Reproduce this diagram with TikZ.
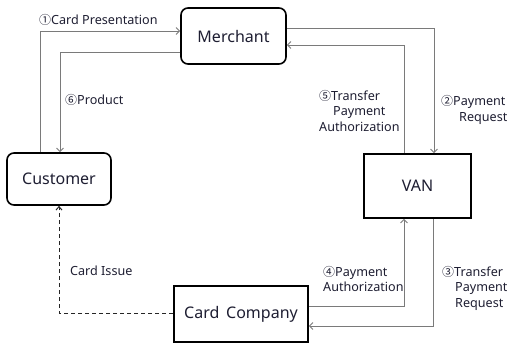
\documentclass[tikz,border=0pt]{standalone}
\usepackage{fontspec}
\setmainfont{Noto Sans}
\newfontfamily\circfont{Noto Sans CJK KR}
\usetikzlibrary{arrows.meta}
\definecolor{txt}{HTML}{1E1E32}
\definecolor{ln}{HTML}{7A7A7A}
\newcommand{\cn}[1]{{\circfont\fontsize{12}{12}\selectfont #1}}
\tikzset{
  box/.style={draw=black, line width=1.6pt, fill=white, text=txt, font=\fontsize{16}{18}\selectfont, inner sep=0pt},
  rbox/.style={box, rounded corners=7pt},
  arr/.style={draw=ln, line width=0.9pt, -{Straight Barb[length=3.5pt,width=7pt]}},
  darr/.style={draw=black!85, line width=1pt, dashed, dash pattern=on 4pt off 3pt, -{Straight Barb[length=3.5pt,width=6pt]}},
  lbl/.style={text=txt, font=\fontsize{12.6}{15.5}\selectfont, inner sep=0pt, anchor=north west, align=left},
}
\begin{document}
\begin{tikzpicture}[x=1pt,y=-1pt]
\useasboundingbox (0,0) rectangle (507,343);
\fill[white] (0,0) rectangle (507,343);
% nodes
\node[rbox, minimum width=105pt, minimum height=56pt] (M) at (233.5,36) {Merchant};
\node[rbox, minimum width=104pt, minimum height=52pt] (C) at (59,179) {Customer};
\node[box, minimum width=107pt, minimum height=64pt] (V) at (417.5,186) {VAN};
\node[box, minimum width=134pt, minimum height=56pt] (K) at (241,314) {Card\, Company};
% connectors
\draw[arr] (C.north -| 40,0) |- (M.west |- 0,31);
\draw[arr] (M.west |- 0,52) -| (C.north -| 60,0);
\draw[arr] (M.east |- 0,28) -| (V.north -| 434,0);
\draw[arr] (V.north -| 404,0) |- (M.east |- 0,45);
\draw[arr] (K.east |- 0,306) -| (V.south -| 404,0);
\draw[arr] (V.south -| 433,0) |- (K.east |- 0,326);
\draw[darr] (K.west |- 0,313) -| (C.south);
% labels
\node[lbl] (l1) at (39,14.5) {\cn{①}Card Presentation};
\node[lbl] (l6) at (65,94) {\cn{⑥}Product};
\node[lbl] (l5) at (319,90) {\cn{⑤}Transfer\\\hspace{14pt}Payment\\Authorization};
\node[lbl] (l2) at (441,95.5) {\cn{②}Payment\\\hspace{18pt}Request};
\node[lbl] (l4) at (323,266) {\cn{④}Payment\\Authorization};
\node[lbl] (l3) at (442,266) {\cn{③}Transfer\\\hspace{13pt}Payment\\\hspace{13pt}Request};
\node[lbl] (li) at (70,265.5) {Card Issue};
\end{tikzpicture}
\end{document}
